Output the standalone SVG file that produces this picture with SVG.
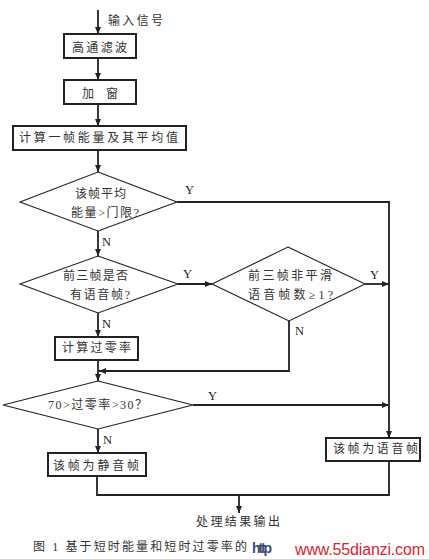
<svg xmlns="http://www.w3.org/2000/svg" width="429" height="559" viewBox="0 0 429 559">
<style>
.bg{fill:#fff}
.box{fill:#fff;stroke:#222;stroke-width:2}
.dia{fill:#fff;stroke:#222;stroke-width:1.1}
.ln{fill:none;stroke:#222;stroke-width:1.8}
.cn{font-family:"Liberation Serif","Noto Sans CJK SC",serif;font-size:12px;fill:#333}
.lt{font-family:"Liberation Serif","Noto Sans CJK SC",serif;font-size:12.5px;fill:#222}
</style>
<defs>
<marker id="arr" markerWidth="8" markerHeight="6" refX="7" refY="3" orient="auto" markerUnits="userSpaceOnUse"><path d="M0,0 L7,3 L0,6 Z" fill="#222"/></marker>
</defs>
<rect class="bg" x="0" y="0" width="429" height="559"/>
<g id="connectors">
<path class="ln" d="M98,10 V34" marker-end="url(#arr)"/>
<path class="ln" d="M98,58 V80" marker-end="url(#arr)"/>
<path class="ln" d="M98,104 V126" marker-end="url(#arr)"/>
<path class="ln" d="M98,150 V172" marker-end="url(#arr)"/>
<path class="ln" d="M98,231 V256" marker-end="url(#arr)"/>
<path class="ln" d="M178,284 H212" marker-end="url(#arr)"/>
<path class="ln" d="M98,313 V337" marker-end="url(#arr)"/>
<path class="ln" d="M98,360 V381" marker-end="url(#arr)"/>
<path class="ln" d="M289,321 V371 H99" marker-end="url(#arr)"/>
<path class="ln" d="M177,202 H389 V438" marker-end="url(#arr)"/>
<path class="ln" d="M365,284 H389" marker-end="url(#arr)"/>
<path class="ln" d="M193,405 H389" marker-end="url(#arr)"/>
<path class="ln" d="M98,429 V453" marker-end="url(#arr)"/>
<path class="ln" d="M97,476 V495 H389 V461"/>
<path class="ln" d="M239,495 V513" marker-end="url(#arr)"/>
<text class="cn" x="108" y="25" textLength="55">输入信号</text>
<text class="lt" x="185" y="194">Y</text>
<text class="lt" x="102" y="246">N</text>
<text class="lt" x="183" y="278">Y</text>
<text class="lt" x="102" y="328">N</text>
<text class="lt" x="370" y="279">Y</text>
<text class="lt" x="295" y="335">N</text>
<text class="lt" x="208" y="400">Y</text>
<text class="lt" x="103" y="444">N</text>
</g>
<g id="n1"><rect class="box" x="64" y="34" width="72" height="24"/><text class="cn" x="72" y="52" textLength="55">高通滤波</text></g>
<g id="n2"><rect class="box" x="64" y="80" width="72" height="24"/><text class="cn" x="82" y="98" textLength="36">加窗</text></g>
<g id="n3"><rect class="box" x="13" y="126" width="173" height="24"/><text class="cn" x="19" y="142" textLength="159">计算一帧能量及其平均值</text></g>
<g id="d1"><polygon class="dia" points="98,172 177,202 98,231 20,202"/><text class="cn" x="75" y="198" textLength="51">该帧平均</text><text class="cn" x="71" y="217" textLength="68">能量&gt;门限?</text></g>
<g id="d2"><polygon class="dia" points="98,256 178,284 98,313 20,284"/><text class="cn" x="63" y="280" textLength="65">前三帧是否</text><text class="cn" x="70" y="299" textLength="60">有语音帧?</text></g>
<g id="d3"><polygon class="dia" points="288,247 365,284 289,321 212,284"/><text class="cn" x="248" y="280" textLength="84">前三帧非平滑</text><text class="cn" x="248" y="299" textLength="85">语音帧数≥1?</text></g>
<g id="n4"><rect class="box" x="55" y="337" width="83" height="23"/><text class="cn" x="62" y="352" textLength="69">计算过零率</text></g>
<g id="d4"><polygon class="dia" points="98,381 193,405 98,429 3,405"/><text class="cn" x="48" y="409" textLength="99">70&gt;过零率&gt;30？</text></g>
<g id="n5"><rect class="box" x="48" y="453" width="98" height="23"/><text class="cn" x="53" y="470" textLength="86">该帧为静音帧</text></g>
<g id="n6"><rect class="box" x="326" y="438" width="94" height="23"/><text class="cn" x="333" y="453" textLength="85">该帧为语音帧</text></g>
<g id="out"><text class="cn" x="196" y="526" textLength="84">处理结果输出</text></g>
<text class="cn" x="33" y="551" textLength="214">图 1 基于短时能量和短时过零率的</text>
<text x="252" y="553" font-family="Liberation Sans, sans-serif" font-size="14" font-weight="bold" fill="#3a4a7a" textLength="20">http</text>
<text x="295" y="555" font-family="Liberation Sans, sans-serif" font-size="16" fill="#e0242a" textLength="130">www.55dianzi.com</text>
</svg>
